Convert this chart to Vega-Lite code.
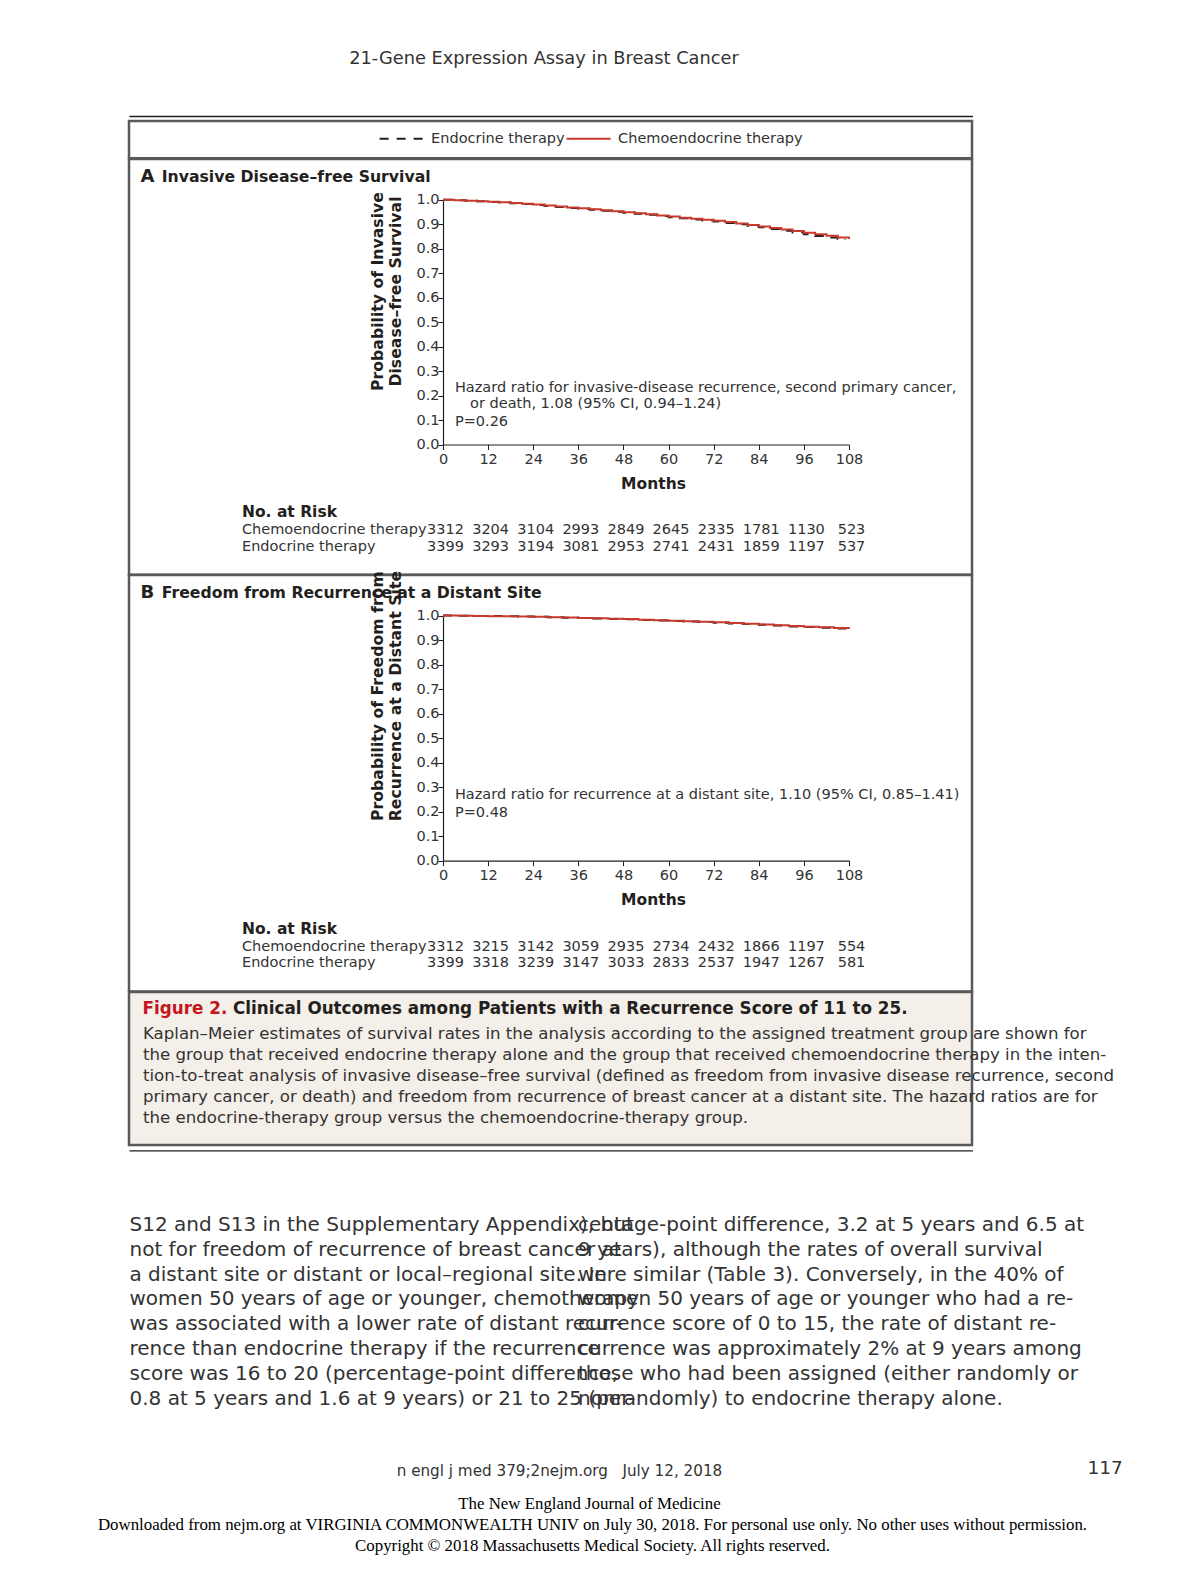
{
  "$schema": "https://vega.github.io/schema/vega-lite/v6.json",
  "padding": 0,
  "background": "white",
  "spacing": 0,
  "bounds": "flush",
  "config": {
    "view": {"stroke": null},
    "font": "DejaVu Sans",
    "text": {"font": "DejaVu Sans", "color": "#333333"},
    "axis": {"labelFont": "DejaVu Sans", "titleFont": "DejaVu Sans", "grid": false}
  },
  "datasets": {
    "km": [
      {"panel":"A","arm":"Endocrine therapy","month":0,"surv":1},
      {"panel":"A","arm":"Endocrine therapy","month":3,"surv":0.998},
      {"panel":"A","arm":"Endocrine therapy","month":6,"surv":0.996},
      {"panel":"A","arm":"Endocrine therapy","month":9,"surv":0.994},
      {"panel":"A","arm":"Endocrine therapy","month":12,"surv":0.991},
      {"panel":"A","arm":"Endocrine therapy","month":15,"surv":0.989},
      {"panel":"A","arm":"Endocrine therapy","month":18,"surv":0.986},
      {"panel":"A","arm":"Endocrine therapy","month":21,"surv":0.983},
      {"panel":"A","arm":"Endocrine therapy","month":24,"surv":0.979},
      {"panel":"A","arm":"Endocrine therapy","month":27,"surv":0.975},
      {"panel":"A","arm":"Endocrine therapy","month":30,"surv":0.971},
      {"panel":"A","arm":"Endocrine therapy","month":33,"surv":0.967},
      {"panel":"A","arm":"Endocrine therapy","month":36,"surv":0.963},
      {"panel":"A","arm":"Endocrine therapy","month":39,"surv":0.959},
      {"panel":"A","arm":"Endocrine therapy","month":42,"surv":0.955},
      {"panel":"A","arm":"Endocrine therapy","month":45,"surv":0.951},
      {"panel":"A","arm":"Endocrine therapy","month":48,"surv":0.947},
      {"panel":"A","arm":"Endocrine therapy","month":51,"surv":0.943},
      {"panel":"A","arm":"Endocrine therapy","month":54,"surv":0.939},
      {"panel":"A","arm":"Endocrine therapy","month":57,"surv":0.934},
      {"panel":"A","arm":"Endocrine therapy","month":60,"surv":0.929},
      {"panel":"A","arm":"Endocrine therapy","month":63,"surv":0.925},
      {"panel":"A","arm":"Endocrine therapy","month":66,"surv":0.92},
      {"panel":"A","arm":"Endocrine therapy","month":69,"surv":0.915},
      {"panel":"A","arm":"Endocrine therapy","month":72,"surv":0.911},
      {"panel":"A","arm":"Endocrine therapy","month":75,"surv":0.905},
      {"panel":"A","arm":"Endocrine therapy","month":78,"surv":0.9},
      {"panel":"A","arm":"Endocrine therapy","month":81,"surv":0.894},
      {"panel":"A","arm":"Endocrine therapy","month":84,"surv":0.888},
      {"panel":"A","arm":"Endocrine therapy","month":87,"surv":0.881},
      {"panel":"A","arm":"Endocrine therapy","month":90,"surv":0.874},
      {"panel":"A","arm":"Endocrine therapy","month":93,"surv":0.866},
      {"panel":"A","arm":"Endocrine therapy","month":96,"surv":0.859},
      {"panel":"A","arm":"Endocrine therapy","month":99,"surv":0.852},
      {"panel":"A","arm":"Endocrine therapy","month":102,"surv":0.846},
      {"panel":"A","arm":"Endocrine therapy","month":105,"surv":0.84},
      {"panel":"A","arm":"Endocrine therapy","month":107,"surv":0.836},
      {"panel":"A","arm":"Chemoendocrine therapy","month":0,"surv":1},
      {"panel":"A","arm":"Chemoendocrine therapy","month":3,"surv":0.998},
      {"panel":"A","arm":"Chemoendocrine therapy","month":6,"surv":0.996},
      {"panel":"A","arm":"Chemoendocrine therapy","month":9,"surv":0.994},
      {"panel":"A","arm":"Chemoendocrine therapy","month":12,"surv":0.992},
      {"panel":"A","arm":"Chemoendocrine therapy","month":15,"surv":0.99},
      {"panel":"A","arm":"Chemoendocrine therapy","month":18,"surv":0.987},
      {"panel":"A","arm":"Chemoendocrine therapy","month":21,"surv":0.984},
      {"panel":"A","arm":"Chemoendocrine therapy","month":24,"surv":0.981},
      {"panel":"A","arm":"Chemoendocrine therapy","month":27,"surv":0.977},
      {"panel":"A","arm":"Chemoendocrine therapy","month":30,"surv":0.973},
      {"panel":"A","arm":"Chemoendocrine therapy","month":33,"surv":0.969},
      {"panel":"A","arm":"Chemoendocrine therapy","month":36,"surv":0.965},
      {"panel":"A","arm":"Chemoendocrine therapy","month":39,"surv":0.961},
      {"panel":"A","arm":"Chemoendocrine therapy","month":42,"surv":0.957},
      {"panel":"A","arm":"Chemoendocrine therapy","month":45,"surv":0.953},
      {"panel":"A","arm":"Chemoendocrine therapy","month":48,"surv":0.949},
      {"panel":"A","arm":"Chemoendocrine therapy","month":51,"surv":0.945},
      {"panel":"A","arm":"Chemoendocrine therapy","month":54,"surv":0.941},
      {"panel":"A","arm":"Chemoendocrine therapy","month":57,"surv":0.936},
      {"panel":"A","arm":"Chemoendocrine therapy","month":60,"surv":0.932},
      {"panel":"A","arm":"Chemoendocrine therapy","month":63,"surv":0.927},
      {"panel":"A","arm":"Chemoendocrine therapy","month":66,"surv":0.923},
      {"panel":"A","arm":"Chemoendocrine therapy","month":69,"surv":0.918},
      {"panel":"A","arm":"Chemoendocrine therapy","month":72,"surv":0.914},
      {"panel":"A","arm":"Chemoendocrine therapy","month":75,"surv":0.909},
      {"panel":"A","arm":"Chemoendocrine therapy","month":78,"surv":0.903},
      {"panel":"A","arm":"Chemoendocrine therapy","month":81,"surv":0.897},
      {"panel":"A","arm":"Chemoendocrine therapy","month":84,"surv":0.891},
      {"panel":"A","arm":"Chemoendocrine therapy","month":87,"surv":0.885},
      {"panel":"A","arm":"Chemoendocrine therapy","month":90,"surv":0.879},
      {"panel":"A","arm":"Chemoendocrine therapy","month":93,"surv":0.872},
      {"panel":"A","arm":"Chemoendocrine therapy","month":96,"surv":0.865},
      {"panel":"A","arm":"Chemoendocrine therapy","month":99,"surv":0.859},
      {"panel":"A","arm":"Chemoendocrine therapy","month":102,"surv":0.853},
      {"panel":"A","arm":"Chemoendocrine therapy","month":105,"surv":0.846},
      {"panel":"A","arm":"Chemoendocrine therapy","month":108,"surv":0.84},
      {"panel":"B","arm":"Endocrine therapy","month":0,"surv":1},
      {"panel":"B","arm":"Endocrine therapy","month":4,"surv":0.999},
      {"panel":"B","arm":"Endocrine therapy","month":8,"surv":0.998},
      {"panel":"B","arm":"Endocrine therapy","month":12,"surv":0.998},
      {"panel":"B","arm":"Endocrine therapy","month":16,"surv":0.997},
      {"panel":"B","arm":"Endocrine therapy","month":20,"surv":0.996},
      {"panel":"B","arm":"Endocrine therapy","month":24,"surv":0.995},
      {"panel":"B","arm":"Endocrine therapy","month":28,"surv":0.993},
      {"panel":"B","arm":"Endocrine therapy","month":32,"surv":0.991},
      {"panel":"B","arm":"Endocrine therapy","month":36,"surv":0.99},
      {"panel":"B","arm":"Endocrine therapy","month":40,"surv":0.988},
      {"panel":"B","arm":"Endocrine therapy","month":44,"surv":0.986},
      {"panel":"B","arm":"Endocrine therapy","month":48,"surv":0.985},
      {"panel":"B","arm":"Endocrine therapy","month":52,"surv":0.982},
      {"panel":"B","arm":"Endocrine therapy","month":56,"surv":0.98},
      {"panel":"B","arm":"Endocrine therapy","month":60,"surv":0.978},
      {"panel":"B","arm":"Endocrine therapy","month":64,"surv":0.976},
      {"panel":"B","arm":"Endocrine therapy","month":68,"surv":0.974},
      {"panel":"B","arm":"Endocrine therapy","month":72,"surv":0.971},
      {"panel":"B","arm":"Endocrine therapy","month":76,"surv":0.968},
      {"panel":"B","arm":"Endocrine therapy","month":80,"surv":0.966},
      {"panel":"B","arm":"Endocrine therapy","month":84,"surv":0.963},
      {"panel":"B","arm":"Endocrine therapy","month":88,"surv":0.96},
      {"panel":"B","arm":"Endocrine therapy","month":92,"surv":0.956},
      {"panel":"B","arm":"Endocrine therapy","month":96,"surv":0.953},
      {"panel":"B","arm":"Endocrine therapy","month":100,"surv":0.95},
      {"panel":"B","arm":"Endocrine therapy","month":104,"surv":0.947},
      {"panel":"B","arm":"Endocrine therapy","month":107,"surv":0.943},
      {"panel":"B","arm":"Chemoendocrine therapy","month":0,"surv":1},
      {"panel":"B","arm":"Chemoendocrine therapy","month":4,"surv":0.999},
      {"panel":"B","arm":"Chemoendocrine therapy","month":8,"surv":0.998},
      {"panel":"B","arm":"Chemoendocrine therapy","month":12,"surv":0.997},
      {"panel":"B","arm":"Chemoendocrine therapy","month":16,"surv":0.997},
      {"panel":"B","arm":"Chemoendocrine therapy","month":20,"surv":0.996},
      {"panel":"B","arm":"Chemoendocrine therapy","month":24,"surv":0.995},
      {"panel":"B","arm":"Chemoendocrine therapy","month":28,"surv":0.993},
      {"panel":"B","arm":"Chemoendocrine therapy","month":32,"surv":0.992},
      {"panel":"B","arm":"Chemoendocrine therapy","month":36,"surv":0.99},
      {"panel":"B","arm":"Chemoendocrine therapy","month":40,"surv":0.989},
      {"panel":"B","arm":"Chemoendocrine therapy","month":44,"surv":0.987},
      {"panel":"B","arm":"Chemoendocrine therapy","month":48,"surv":0.986},
      {"panel":"B","arm":"Chemoendocrine therapy","month":52,"surv":0.983},
      {"panel":"B","arm":"Chemoendocrine therapy","month":56,"surv":0.981},
      {"panel":"B","arm":"Chemoendocrine therapy","month":60,"surv":0.979},
      {"panel":"B","arm":"Chemoendocrine therapy","month":64,"surv":0.977},
      {"panel":"B","arm":"Chemoendocrine therapy","month":68,"surv":0.975},
      {"panel":"B","arm":"Chemoendocrine therapy","month":72,"surv":0.973},
      {"panel":"B","arm":"Chemoendocrine therapy","month":76,"surv":0.97},
      {"panel":"B","arm":"Chemoendocrine therapy","month":80,"surv":0.967},
      {"panel":"B","arm":"Chemoendocrine therapy","month":84,"surv":0.964},
      {"panel":"B","arm":"Chemoendocrine therapy","month":88,"surv":0.961},
      {"panel":"B","arm":"Chemoendocrine therapy","month":92,"surv":0.958},
      {"panel":"B","arm":"Chemoendocrine therapy","month":96,"surv":0.955},
      {"panel":"B","arm":"Chemoendocrine therapy","month":100,"surv":0.952},
      {"panel":"B","arm":"Chemoendocrine therapy","month":104,"surv":0.949},
      {"panel":"B","arm":"Chemoendocrine therapy","month":108,"surv":0.946}
    ],
    "risk": [
      {"panel":"A","arm":"Chemoendocrine therapy","month":0,"n":3312},
      {"panel":"A","arm":"Chemoendocrine therapy","month":12,"n":3204},
      {"panel":"A","arm":"Chemoendocrine therapy","month":24,"n":3104},
      {"panel":"A","arm":"Chemoendocrine therapy","month":36,"n":2993},
      {"panel":"A","arm":"Chemoendocrine therapy","month":48,"n":2849},
      {"panel":"A","arm":"Chemoendocrine therapy","month":60,"n":2645},
      {"panel":"A","arm":"Chemoendocrine therapy","month":72,"n":2335},
      {"panel":"A","arm":"Chemoendocrine therapy","month":84,"n":1781},
      {"panel":"A","arm":"Chemoendocrine therapy","month":96,"n":1130},
      {"panel":"A","arm":"Chemoendocrine therapy","month":108,"n":523},
      {"panel":"A","arm":"Endocrine therapy","month":0,"n":3399},
      {"panel":"A","arm":"Endocrine therapy","month":12,"n":3293},
      {"panel":"A","arm":"Endocrine therapy","month":24,"n":3194},
      {"panel":"A","arm":"Endocrine therapy","month":36,"n":3081},
      {"panel":"A","arm":"Endocrine therapy","month":48,"n":2953},
      {"panel":"A","arm":"Endocrine therapy","month":60,"n":2741},
      {"panel":"A","arm":"Endocrine therapy","month":72,"n":2431},
      {"panel":"A","arm":"Endocrine therapy","month":84,"n":1859},
      {"panel":"A","arm":"Endocrine therapy","month":96,"n":1197},
      {"panel":"A","arm":"Endocrine therapy","month":108,"n":537},
      {"panel":"B","arm":"Chemoendocrine therapy","month":0,"n":3312},
      {"panel":"B","arm":"Chemoendocrine therapy","month":12,"n":3215},
      {"panel":"B","arm":"Chemoendocrine therapy","month":24,"n":3142},
      {"panel":"B","arm":"Chemoendocrine therapy","month":36,"n":3059},
      {"panel":"B","arm":"Chemoendocrine therapy","month":48,"n":2935},
      {"panel":"B","arm":"Chemoendocrine therapy","month":60,"n":2734},
      {"panel":"B","arm":"Chemoendocrine therapy","month":72,"n":2432},
      {"panel":"B","arm":"Chemoendocrine therapy","month":84,"n":1866},
      {"panel":"B","arm":"Chemoendocrine therapy","month":96,"n":1197},
      {"panel":"B","arm":"Chemoendocrine therapy","month":108,"n":554},
      {"panel":"B","arm":"Endocrine therapy","month":0,"n":3399},
      {"panel":"B","arm":"Endocrine therapy","month":12,"n":3318},
      {"panel":"B","arm":"Endocrine therapy","month":24,"n":3239},
      {"panel":"B","arm":"Endocrine therapy","month":36,"n":3147},
      {"panel":"B","arm":"Endocrine therapy","month":48,"n":3033},
      {"panel":"B","arm":"Endocrine therapy","month":60,"n":2833},
      {"panel":"B","arm":"Endocrine therapy","month":72,"n":2537},
      {"panel":"B","arm":"Endocrine therapy","month":84,"n":1947},
      {"panel":"B","arm":"Endocrine therapy","month":96,"n":1267},
      {"panel":"B","arm":"Endocrine therapy","month":108,"n":581}
    ],
    "caption": [
      {"line":1,"text":"Kaplan–Meier estimates of survival rates in the analysis according to the assigned treatment group are shown for"},
      {"line":2,"text":"the group that received endocrine therapy alone and the group that received chemoendocrine therapy in the inten-"},
      {"line":3,"text":"tion-to-treat analysis of invasive disease–free survival (defined as freedom from invasive disease recurrence, second"},
      {"line":4,"text":"primary cancer, or death) and freedom from recurrence of breast cancer at a distant site. The hazard ratios are for"},
      {"line":5,"text":"the endocrine-therapy group versus the chemoendocrine-therapy group."}
    ],
    "body": [
      {"col":"left","line":1,"text":"S12 and S13 in the Supplementary Appendix), but"},
      {"col":"left","line":2,"text":"not for freedom of recurrence of breast cancer at"},
      {"col":"left","line":3,"text":"a distant site or distant or local–regional site. In"},
      {"col":"left","line":4,"text":"women 50 years of age or younger, chemotherapy"},
      {"col":"left","line":5,"text":"was associated with a lower rate of distant recur-"},
      {"col":"left","line":6,"text":"rence than endocrine therapy if the recurrence"},
      {"col":"left","line":7,"text":"score was 16 to 20 (percentage-point difference,"},
      {"col":"left","line":8,"text":"0.8 at 5 years and 1.6 at 9 years) or 21 to 25 (per-"},
      {"col":"right","line":1,"text":"centage-point difference, 3.2 at 5 years and 6.5 at"},
      {"col":"right","line":2,"text":"9 years), although the rates of overall survival"},
      {"col":"right","line":3,"text":"were similar (Table 3). Conversely, in the 40% of"},
      {"col":"right","line":4,"text":"women 50 years of age or younger who had a re-"},
      {"col":"right","line":5,"text":"currence score of 0 to 15, the rate of distant re-"},
      {"col":"right","line":6,"text":"currence was approximately 2% at 9 years among"},
      {"col":"right","line":7,"text":"those who had been assigned (either randomly or"},
      {"col":"right","line":8,"text":"nonrandomly) to endocrine therapy alone."}
    ]
  },
  "hconcat": [
    {
      "width": 129, "height": 10,
      "data": {"values": [{}]},
      "mark": {"type": "text", "text": ""}
    },
    {
      "spacing": 0,
      "bounds": "flush",
      "vconcat": [
        {
          "width": 843, "height": 119.5,
          "layer": [
            {
              "data": {"values": [{"t": "21-Gene Expression Assay in Breast Cancer"}]},
              "mark": {"type": "text", "align": "center", "baseline": "middle", "fontSize": 17.8, "color": "#333333"},
              "encoding": {"text": {"field": "t"}, "x": {"value": 415}, "y": {"value": 58.2}}
            },
            {
              "data": {"values": [{}]},
              "mark": {"type": "rule", "color": "#231f20", "strokeWidth": 1.3},
              "encoding": {"x": {"value": 0.5}, "x2": {"value": 844}, "y": {"value": 115.5}}
            }
          ]
        },
        {
          "width": 843, "height": 37.2,
          "view": {"stroke": "#58595b", "strokeWidth": 2.5},
          "data": {"values": [{}]},
          "mark": {"type": "text", "text": ""}
        },
        {
          "width": 843, "height": 415.7,
          "view": {"stroke": "#58595b", "strokeWidth": 2.5},
          "resolve": {"scale": {"x": "independent", "y": "independent"}, "axis": {"x": "independent", "y": "independent"}},
          "layer": [
            {
              "data": {"name": "km"},
              "transform": [{"filter": "datum.panel === 'A'"}],
              "mark": {"type": "line", "interpolate": "step-after", "strokeWidth": 2},
              "encoding": {
                "x": {"field": "month", "type": "quantitative",
                  "scale": {"domain": [0, 108], "range": [314, 720], "nice": false, "zero": false},
                  "axis": {"orient": "bottom", "offset": -130.2, "values": [0,12,24,36,48,60,72,84,96,108],
                    "title": "Months", "titleX": 524, "titleAlign": "center", "titleFontSize": 15.5, "titleFontWeight": "bold", "titleColor": "#231f20", "titlePadding": 10,
                    "labelFontSize": 14.5, "labelColor": "#333333", "labelPadding": 3, "labelOverlap": false, "labelFlush": false,
                    "tickSize": 5, "tickColor": "#231f20", "domainColor": "#231f20", "domainWidth": 1.2}},
                "y": {"field": "surv", "type": "quantitative",
                  "scale": {"domain": [0, 1], "range": [285.5, 40.8], "nice": false, "zero": false},
                  "axis": {"orient": "left", "offset": -314, "values": [0,0.1,0.2,0.3,0.4,0.5,0.6,0.7,0.8,0.9,1], "format": ".1f",
                    "title": ["Probability of Invasive", "Disease–free Survival"], "titleX": -65.4, "titleY": 132, "titleAngle": 270,
                    "titleAlign": "center", "titleBaseline": "middle", "titleLineHeight": 18, "titleFontSize": 15.7, "titleFontWeight": "bold", "titleColor": "#231f20",
                    "labelFontSize": 14.5, "labelColor": "#333333", "labelPadding": -1, "labelOverlap": false, "labelFlush": false,
                    "tickSize": 5, "tickColor": "#231f20", "domainColor": "#231f20", "domainWidth": 1.2}},
                "color": {"field": "arm", "type": "nominal",
                  "scale": {"domain": ["Endocrine therapy", "Chemoendocrine therapy"], "range": ["#231f20", "#c8382c"]},
                  "legend": {"title": null, "orient": "none", "legendX": 378.6, "legendY": 114.6, "direction": "horizontal",
                    "symbolType": "stroke", "symbolSize": 1936, "symbolStrokeWidth": 2, "labelFontSize": 14.5, "labelColor": "#333333",
                    "labelFont": "DejaVu Sans", "labelOffset": 6.5, "columnPadding": -9, "labelLimit": 400, "padding": 0}},
                "strokeDash": {"field": "arm", "type": "nominal",
                  "scale": {"domain": ["Endocrine therapy", "Chemoendocrine therapy"], "range": [[9, 8], [1, 0]]},
                  "legend": {"title": null, "orient": "none", "legendX": 378.6, "legendY": 114.6, "direction": "horizontal",
                    "symbolType": "stroke", "symbolSize": 1936, "symbolStrokeWidth": 2, "labelFontSize": 14.5, "labelColor": "#333333",
                    "labelFont": "DejaVu Sans", "labelOffset": 6.5, "columnPadding": -9, "labelLimit": 400, "padding": 0}}
              }
            },
            {
              "data": {"values": [{"t": "Hazard ratio for invasive-disease recurrence, second primary cancer,"}]},
              "mark": {"type": "text", "align": "left", "baseline": "middle", "fontSize": 14.5, "color": "#333333"},
              "encoding": {"text": {"field": "t"},
                "x": {"datum": 3.17, "type": "quantitative", "scale": {"domain": [0, 108], "range": [314, 720]}, "axis": null},
                "y": {"datum": 0.231, "type": "quantitative", "scale": {"domain": [0, 1], "range": [285.5, 40.8]}, "axis": null}}
            },
            {
              "data": {"values": [{"t": "or death, 1.08 (95% CI, 0.94–1.24)"}]},
              "mark": {"type": "text", "align": "left", "baseline": "middle", "fontSize": 14.5, "color": "#333333"},
              "encoding": {"text": {"field": "t"},
                "x": {"datum": 7.2, "type": "quantitative", "scale": {"domain": [0, 108], "range": [314, 720]}, "axis": null},
                "y": {"datum": 0.166, "type": "quantitative", "scale": {"domain": [0, 1], "range": [285.5, 40.8]}, "axis": null}}
            },
            {
              "data": {"values": [{"t": "P=0.26"}]},
              "mark": {"type": "text", "align": "left", "baseline": "middle", "fontSize": 14.5, "color": "#333333"},
              "encoding": {"text": {"field": "t"},
                "x": {"datum": 3.17, "type": "quantitative", "scale": {"domain": [0, 108], "range": [314, 720]}, "axis": null},
                "y": {"datum": 0.0915, "type": "quantitative", "scale": {"domain": [0, 1], "range": [285.5, 40.8]}, "axis": null}}
            },
            {
              "data": {"name": "risk"},
              "transform": [{"filter": "datum.panel === 'A'"}],
              "mark": {"type": "text", "align": "center", "baseline": "middle", "fontSize": 14.5, "color": "#333333", "dx": 2.5},
              "encoding": {"text": {"field": "n", "type": "quantitative"},
                "x": {"field": "month", "type": "quantitative", "scale": {"domain": [0, 108], "range": [314, 720]}, "axis": null},
                "y": {"field": "arm", "type": "nominal", "scale": {"type": "point", "domain": ["Chemoendocrine therapy", "Endocrine therapy"], "range": [370.5, 387.6], "padding": 0}, "axis": null}}
            },
            {
              "data": {"name": "risk"},
              "transform": [{"filter": "datum.panel === 'A' && datum.month === 0"}],
              "mark": {"type": "text", "align": "left", "baseline": "middle", "fontSize": 14.5, "color": "#333333"},
              "encoding": {"text": {"field": "arm", "type": "nominal"},
                "x": {"value": 113},
                "y": {"field": "arm", "type": "nominal", "scale": {"type": "point", "domain": ["Chemoendocrine therapy", "Endocrine therapy"], "range": [370.5, 387.6], "padding": 0}, "axis": null}}
            },
            {
              "data": {"values": [{"t": "No. at Risk"}]},
              "mark": {"type": "text", "align": "left", "baseline": "middle", "fontSize": 15.5, "fontWeight": "bold", "color": "#231f20"},
              "encoding": {"text": {"field": "t"}, "x": {"value": 113}, "y": {"value": 353.3}}
            },
            {
              "data": {"values": [{"t": "A"}]},
              "mark": {"type": "text", "align": "left", "baseline": "middle", "fontSize": 18, "fontWeight": "bold", "color": "#231f20"},
              "encoding": {"text": {"field": "t"}, "x": {"value": 11.6}, "y": {"value": 17.5}}
            },
            {
              "data": {"values": [{"t": "Invasive Disease–free Survival"}]},
              "mark": {"type": "text", "align": "left", "baseline": "middle", "fontSize": 15.7, "fontWeight": "bold", "color": "#231f20"},
              "encoding": {"text": {"field": "t"}, "x": {"value": 32.7}, "y": {"value": 18}}
            }
          ]
        },
        {
          "width": 843, "height": 416.6,
          "view": {"stroke": "#58595b", "strokeWidth": 2.5},
          "resolve": {"scale": {"x": "independent", "y": "independent"}, "axis": {"x": "independent", "y": "independent"}},
          "layer": [
            {
              "data": {"name": "km"},
              "transform": [{"filter": "datum.panel === 'B'"}],
              "mark": {"type": "line", "interpolate": "step-after", "strokeWidth": 2},
              "encoding": {
                "x": {"field": "month", "type": "quantitative",
                  "scale": {"domain": [0, 108], "range": [314, 720], "nice": false, "zero": false},
                  "axis": {"orient": "bottom", "offset": -131, "values": [0,12,24,36,48,60,72,84,96,108],
                    "title": "Months", "titleX": 524, "titleAlign": "center", "titleFontSize": 15.5, "titleFontWeight": "bold", "titleColor": "#231f20", "titlePadding": 10,
                    "labelFontSize": 14.5, "labelColor": "#333333", "labelPadding": 3, "labelOverlap": false, "labelFlush": false,
                    "tickSize": 5, "tickColor": "#231f20", "domainColor": "#231f20", "domainWidth": 1.2}},
                "y": {"field": "surv", "type": "quantitative",
                  "scale": {"domain": [0, 1], "range": [285.6, 40.6], "nice": false, "zero": false},
                  "axis": {"orient": "left", "offset": -314, "values": [0,0.1,0.2,0.3,0.4,0.5,0.6,0.7,0.8,0.9,1], "format": ".1f",
                    "title": ["Probability of Freedom from", "Recurrence at a Distant Site"], "titleX": -65.4, "titleY": 120.6, "titleAngle": 270,
                    "titleAlign": "center", "titleBaseline": "middle", "titleLineHeight": 18, "titleFontSize": 15.7, "titleFontWeight": "bold", "titleColor": "#231f20",
                    "labelFontSize": 14.5, "labelColor": "#333333", "labelPadding": -1, "labelOverlap": false, "labelFlush": false,
                    "tickSize": 5, "tickColor": "#231f20", "domainColor": "#231f20", "domainWidth": 1.2}},
                "color": {"field": "arm", "type": "nominal",
                  "scale": {"domain": ["Endocrine therapy", "Chemoendocrine therapy"], "range": ["#231f20", "#c8382c"]},
                  "legend": null},
                "strokeDash": {"field": "arm", "type": "nominal",
                  "scale": {"domain": ["Endocrine therapy", "Chemoendocrine therapy"], "range": [[9, 8], [1, 0]]},
                  "legend": null}
              }
            },
            {
              "data": {"values": [{"t": "Hazard ratio for recurrence at a distant site, 1.10 (95% CI, 0.85–1.41)"}]},
              "mark": {"type": "text", "align": "left", "baseline": "middle", "fontSize": 14.5, "color": "#333333"},
              "encoding": {"text": {"field": "t"},
                "x": {"datum": 3.17, "type": "quantitative", "scale": {"domain": [0, 108], "range": [314, 720]}, "axis": null},
                "y": {"datum": 0.268, "type": "quantitative", "scale": {"domain": [0, 1], "range": [285.6, 40.6]}, "axis": null}}
            },
            {
              "data": {"values": [{"t": "P=0.48"}]},
              "mark": {"type": "text", "align": "left", "baseline": "middle", "fontSize": 14.5, "color": "#333333"},
              "encoding": {"text": {"field": "t"},
                "x": {"datum": 3.17, "type": "quantitative", "scale": {"domain": [0, 108], "range": [314, 720]}, "axis": null},
                "y": {"datum": 0.194, "type": "quantitative", "scale": {"domain": [0, 1], "range": [285.6, 40.6]}, "axis": null}}
            },
            {
              "data": {"name": "risk"},
              "transform": [{"filter": "datum.panel === 'B'"}],
              "mark": {"type": "text", "align": "center", "baseline": "middle", "fontSize": 14.5, "color": "#333333", "dx": 2.5},
              "encoding": {"text": {"field": "n", "type": "quantitative"},
                "x": {"field": "month", "type": "quantitative", "scale": {"domain": [0, 108], "range": [314, 720]}, "axis": null},
                "y": {"field": "arm", "type": "nominal", "scale": {"type": "point", "domain": ["Chemoendocrine therapy", "Endocrine therapy"], "range": [371.5, 387.6], "padding": 0}, "axis": null}}
            },
            {
              "data": {"name": "risk"},
              "transform": [{"filter": "datum.panel === 'B' && datum.month === 0"}],
              "mark": {"type": "text", "align": "left", "baseline": "middle", "fontSize": 14.5, "color": "#333333"},
              "encoding": {"text": {"field": "arm", "type": "nominal"},
                "x": {"value": 113},
                "y": {"field": "arm", "type": "nominal", "scale": {"type": "point", "domain": ["Chemoendocrine therapy", "Endocrine therapy"], "range": [371.5, 387.6], "padding": 0}, "axis": null}}
            },
            {
              "data": {"values": [{"t": "No. at Risk"}]},
              "mark": {"type": "text", "align": "left", "baseline": "middle", "fontSize": 15.5, "fontWeight": "bold", "color": "#231f20"},
              "encoding": {"text": {"field": "t"}, "x": {"value": 113}, "y": {"value": 353.5}}
            },
            {
              "data": {"values": [{"t": "B"}]},
              "mark": {"type": "text", "align": "left", "baseline": "middle", "fontSize": 18, "fontWeight": "bold", "color": "#231f20"},
              "encoding": {"text": {"field": "t"}, "x": {"value": 11.6}, "y": {"value": 17.6}}
            },
            {
              "data": {"values": [{"t": "Freedom from Recurrence at a Distant Site"}]},
              "mark": {"type": "text", "align": "left", "baseline": "middle", "fontSize": 15.7, "fontWeight": "bold", "color": "#231f20"},
              "encoding": {"text": {"field": "t"}, "x": {"value": 32.7}, "y": {"value": 18.1}}
            }
          ]
        },
        {
          "width": 843, "height": 153,
          "view": {"stroke": "#58595b", "strokeWidth": 2.5, "fill": "#f4efe9"},
          "layer": [
            {
              "data": {"values": [{"t": "Figure 2."}]},
              "mark": {"type": "text", "align": "left", "baseline": "middle", "fontSize": 16.8, "fontWeight": "bold", "color": "#c4161c"},
              "encoding": {"text": {"field": "t"}, "x": {"value": 13.6}, "y": {"value": 17.2}}
            },
            {
              "data": {"values": [{"t": "Clinical Outcomes among Patients with a Recurrence Score of 11 to 25."}]},
              "mark": {"type": "text", "align": "left", "baseline": "middle", "fontSize": 16.8, "fontWeight": "bold", "color": "#231f20"},
              "encoding": {"text": {"field": "t"}, "x": {"value": 104}, "y": {"value": 17.2}}
            },
            {
              "data": {"name": "caption"},
              "mark": {"type": "text", "align": "left", "baseline": "middle", "fontSize": 16.6, "color": "#333333"},
              "encoding": {"text": {"field": "text"},
                "x": {"value": 14},
                "y": {"field": "line", "type": "quantitative", "scale": {"domain": [1, 5], "range": [42.3, 125.7]}, "axis": null}}
            }
          ]
        },
        {
          "width": 843, "height": 298,
          "layer": [
            {
              "data": {"values": [{}]},
              "mark": {"type": "rule", "color": "#231f20", "strokeWidth": 1.3},
              "encoding": {"x": {"value": 0.5}, "x2": {"value": 844}, "y": {"value": 5.8}}
            },
            {
              "data": {"name": "body"},
              "mark": {"type": "text", "align": "left", "baseline": "middle", "fontSize": 20, "color": "#333333"},
              "encoding": {"text": {"field": "text"},
                "x": {"field": "col", "type": "nominal", "scale": {"type": "point", "domain": ["left", "right"], "range": [0.5, 449], "padding": 0}, "axis": null},
                "y": {"field": "line", "type": "quantitative", "scale": {"domain": [1, 8], "range": [79.6, 254.3]}, "axis": null}}
            }
          ]
        },
        {
          "width": 843, "height": 135,
          "layer": [
            {
              "data": {"values": [{"t": "n engl j med 379;2nejm.org\u00a0\u00a0\u00a0July 12, 2018"}]},
              "mark": {"type": "text", "align": "left", "baseline": "middle", "fontSize": 15.2, "color": "#333333"},
              "encoding": {"text": {"field": "t"}, "x": {"value": 267.7}, "y": {"value": 27.5}}
            },
            {
              "data": {"values": [{"t": "117"}]},
              "mark": {"type": "text", "align": "right", "baseline": "middle", "fontSize": 18.5, "color": "#333333"},
              "encoding": {"text": {"field": "t"}, "x": {"value": 993.7}, "y": {"value": 24.5}}
            },
            {
              "data": {"values": [{"t": "The New England Journal of Medicine"}]},
              "mark": {"type": "text", "align": "center", "baseline": "middle", "fontSize": 16.85, "font": "Liberation Serif", "color": "#000000"},
              "encoding": {"text": {"field": "t"}, "x": {"value": 460.5}, "y": {"value": 61}}
            },
            {
              "data": {"values": [{"t": "Downloaded from nejm.org at VIRGINIA COMMONWEALTH UNIV on July 30, 2018. For personal use only. No other uses without permission."}]},
              "mark": {"type": "text", "align": "center", "baseline": "middle", "fontSize": 16.85, "font": "Liberation Serif", "color": "#000000"},
              "encoding": {"text": {"field": "t"}, "x": {"value": 463.5}, "y": {"value": 82.2}}
            },
            {
              "data": {"values": [{"t": "Copyright © 2018 Massachusetts Medical Society. All rights reserved."}]},
              "mark": {"type": "text", "align": "center", "baseline": "middle", "fontSize": 16.85, "font": "Liberation Serif", "color": "#000000"},
              "encoding": {"text": {"field": "t"}, "x": {"value": 463.5}, "y": {"value": 103.3}}
            }
          ]
        }
      ]
    }
  ]
}
